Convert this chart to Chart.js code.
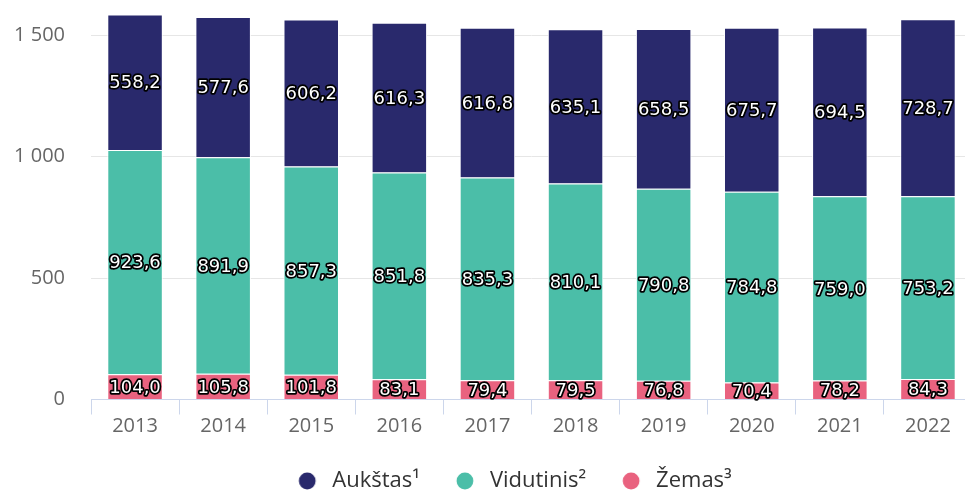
<!DOCTYPE html>
<html>
<head>
<meta charset="utf-8">
<script src="https://cdn.jsdelivr.net/npm/chart.js@4/dist/chart.umd.min.js"></script>
<style>
  html, body { margin: 0; padding: 0; overflow: hidden; background: #fff; }
  #wrap { position: relative; width: 972px; height: 493px; }
</style>
</head>
<body>
<div id="wrap"><canvas id="c"></canvas></div>
<script>
const categories = ['2013', '2014', '2015', '2016', '2017', '2018', '2019', '2020', '2021', '2022'];
const aukstas    = [558.2, 577.6, 606.2, 616.3, 616.8, 635.1, 658.5, 675.7, 694.5, 728.7];
const vidutinis  = [923.6, 891.9, 857.3, 851.8, 835.3, 810.1, 790.8, 784.8, 759.0, 753.2];
const zemas      = [104.0, 105.8, 101.8, 83.1, 79.4, 79.5, 76.8, 70.4, 78.2, 84.3];
const seriesNames = ['Aukštas¹', 'Vidutinis²', 'Žemas³'];
const seriesColors = ['#29296c', '#4bbea8', '#e9627f'];
const yTicks = [0, 500, 1000, 1500];

function dotImage(color) {
  const c = document.createElement('canvas');
  c.width = 28; c.height = 18;
  const g = c.getContext('2d');
  g.fillStyle = color;
  g.beginPath();
  g.arc(14, 9, 8.4, 0, Math.PI * 2);
  g.fill();
  return c;
}

const valueLabels = {
  id: 'valueLabels',
  afterDatasetsDraw(chart) {
    const ctx = chart.ctx;
    ctx.save();
    ctx.font = '18px "DejaVu Sans"';
    ctx.textAlign = 'center';
    ctx.textBaseline = 'middle';
    ctx.lineJoin = 'round';
    chart.data.datasets.forEach((ds, i) => {
      const meta = chart.getDatasetMeta(i);
      if (meta.hidden) return;
      meta.data.forEach((el, j) => {
        const txt = ds.data[j].toFixed(1).replace('.', ',');
        const y = (el.y + el.base) / 2 + 1.5;
        ctx.lineWidth = 3.5;
        ctx.strokeStyle = '#000';
        ctx.strokeText(txt, el.x, y);
        ctx.fillStyle = '#fff';
        ctx.fillText(txt, el.x, y);
      });
    });
    ctx.restore();
  }
};

const legendShift = {
  id: 'legendShift',
  afterLayout(chart) {
    const lg = chart.legend;
    if (lg) { lg.left -= 19; lg.right -= 19; }
  }
};

new Chart(document.getElementById('c'), {
  type: 'bar',
  data: {
    labels: categories,
    datasets: [
      { label: seriesNames[2], data: zemas, backgroundColor: seriesColors[2] },
      { label: seriesNames[1], data: vidutinis, backgroundColor: seriesColors[1] },
      { label: seriesNames[0], data: aukstas, backgroundColor: seriesColors[0] }
    ]
  },
  options: {
    responsive: true,
    maintainAspectRatio: false,
    animation: false,
    layout: { padding: { top: 11, left: 0, right: 0, bottom: -9 } },
    datasets: {
      bar: {
        barPercentage: 0.63,
        categoryPercentage: 1,
        borderWidth: 1,
        borderColor: '#ffffff',
        borderSkipped: 'start'
      }
    },
    scales: {
      x: {
        stacked: true,
        grid: {
          drawOnChartArea: false,
          drawTicks: true,
          tickLength: 15,
          color: '#ccd6eb',
          offset: true
        },
        border: { display: true, color: '#ccd6eb', width: 1 },
        ticks: {
          padding: 0,
          color: '#666666',
          font: { family: '"Open Sans"', size: 20 }
        },
        afterFit(s) { s.height = 39.5; }
      },
      y: {
        stacked: true,
        min: 0,
        max: 1600,
        grid: { color: '#e6e6e6', drawTicks: true, tickLength: 26, tickColor: 'rgba(0,0,0,0)' },
        border: { display: false },
        afterBuildTicks(s) { s.ticks = yTicks.map(v => ({ value: v })); },
        ticks: {
          padding: 0,
          color: '#666666',
          font: { family: '"Open Sans"', size: 20, lineHeight: 1.0 },
          callback(v) { return String(v).replace(/\B(?=(\d{3})+(?!\d))/g, ' '); }
        },
        afterFit(s) { s.width = 91; }
      }
    },
    plugins: {
      tooltip: { enabled: false },
      legend: {
        position: 'bottom',
        fullSize: false,
        labels: {
          usePointStyle: true,
          pointStyleWidth: 28,
          boxHeight: 18,
          padding: 31,
          color: '#333333',
          font: { family: '"Open Sans"', size: 22 },
          generateLabels(chart) {
            const items = Chart.defaults.plugins.legend.labels.generateLabels(chart);
            items.forEach(it => {
              it.pointStyle = dotImage(chart.data.datasets[it.datasetIndex].backgroundColor);
              it.lineWidth = 0;
            });
            return items;
          },
          sort: (a, b) => b.datasetIndex - a.datasetIndex
        }
      }
    }
  },
  plugins: [valueLabels, legendShift]
});
</script>
</body>
</html>
